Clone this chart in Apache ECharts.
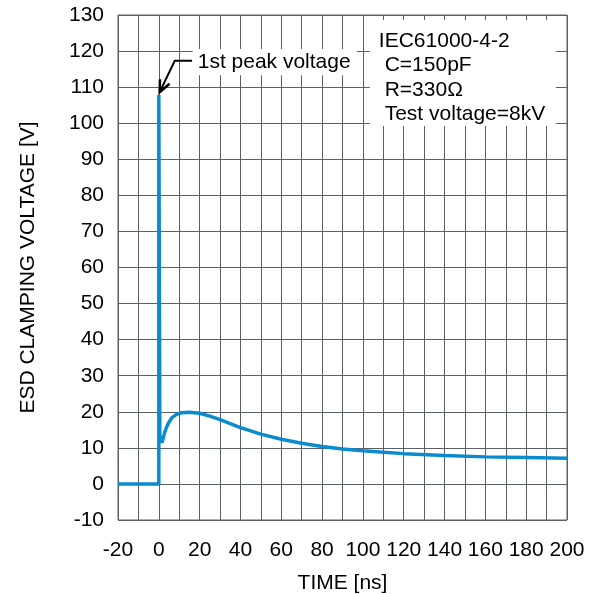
<!DOCTYPE html>
<html><head><meta charset="utf-8">
<script src="https://cdn.jsdelivr.net/npm/echarts@6/dist/echarts.min.js"></script>
<style>html,body{margin:0;padding:0;background:#fff}#c{width:592px;height:594px}</style>
</head><body><div id="c"></div>
<script>
const timeNs = [-20, 0, 0, 0.5, 1.0, 1.6, 2.2, 3.0, 4.0, 5.0, 6.5, 8.5, 11, 15, 20, 25, 30, 40, 50, 60, 70, 80, 90, 100, 110, 120, 140, 160, 180, 200];
const voltage = [0, 0, 107.8, 13.5, 12.2, 11.5, 12.8, 14.5, 16.0, 17.2, 18.4, 19.2, 19.7, 19.9, 19.6, 18.8, 17.8, 15.6, 13.8, 12.4, 11.3, 10.4, 9.7, 9.2, 8.8, 8.4, 7.9, 7.5, 7.3, 7.1];
const xTicks = [-20, 0, 20, 40, 60, 80, 100, 120, 140, 160, 180, 200];
const infoLines = ['IEC61000-4-2', ' C=150pF', ' R=330Ω', ' Test voltage=8kV'];
const peakLabel = '1st peak voltage';

const FONT = 'Liberation Sans, Arial, sans-serif';
const FS = 21;
const chart = echarts.init(document.getElementById('c'), null, {renderer: 'canvas'});
const gridColor = '#5a6067';
chart.setOption({
  animation: false,
  grid: {left: 118, right: 25, top: 15, bottom: 74, show: true, borderColor: gridColor, borderWidth: 1,
         containLabel: false, outerBoundsMode: 'none'},
  xAxis: {
    type: 'value', min: -20, max: 200, interval: 10,
    name: 'TIME [ns]', nameLocation: 'middle', nameGap: 53,
    nameTextStyle: {fontFamily: FONT, fontSize: FS, color: '#000'},
    axisLine: {show: false}, axisTick: {show: false},
    axisLabel: {fontFamily: FONT, fontSize: FS, color: '#000', margin: 20,
      formatter: v => xTicks.indexOf(v) >= 0 ? String(v) : ''},
    splitLine: {show: true, lineStyle: {color: gridColor, width: 1}}
  },
  yAxis: {
    type: 'value', min: -10, max: 130, interval: 10,
    name: 'ESD CLAMPING VOLTAGE [V]', nameLocation: 'middle', nameGap: 79,
    nameTextStyle: {fontFamily: FONT, fontSize: FS, color: '#000'},
    axisLine: {show: false}, axisTick: {show: false},
    axisLabel: {fontFamily: FONT, fontSize: FS, color: '#000', margin: 14, padding: [4, 0, 0, 0]},
    splitLine: {show: true, lineStyle: {color: gridColor, width: 1}}
  },
  series: [{
    type: 'line', data: timeNs.map((t, i) => [t, voltage[i]]),
    showSymbol: false, smooth: false,
    lineStyle: {color: '#0a8bcf', width: 3.5}, z: 3
  }]
});

// annotations positioned through the chart's coordinate system
const p = (x, y) => chart.convertToPixel({gridIndex: 0}, [x, y]);
const tip = p(0.4, 108.6), elbow = p(7.8, 117.3), start = p(16.3, 117.3);
const ang = Math.atan2(elbow[1] - tip[1], elbow[0] - tip[0]);
const ah = 13, spread = 0.42;
const a1 = [tip[0] + ah * Math.cos(ang - spread), tip[1] + ah * Math.sin(ang - spread)];
const a2 = [tip[0] + ah * Math.cos(ang + spread), tip[1] + ah * Math.sin(ang + spread)];
const lblTL = p(16.6, 120.6), lblBR = p(97, 113.3);
const infoTL = p(103.4, 128.6), infoBR = p(194.5, 99.2);
const txt = (s, x, y) => ({type: 'text', x: x, y: y, style: {text: s, font: FS + 'px ' + FONT, fill: '#000', textVerticalAlign: 'middle'}, z: 11});
const graphics = [
  {type: 'rect', shape: {x: lblTL[0], y: lblTL[1], width: lblBR[0] - lblTL[0], height: lblBR[1] - lblTL[1]}, style: {fill: '#fff'}, z: 10},
  txt(peakLabel, lblTL[0] + 5, (lblTL[1] + lblBR[1]) / 2),
  {type: 'polyline', shape: {points: [start, elbow, tip]}, style: {stroke: '#000', lineWidth: 2, fill: null}, z: 12},
  {type: 'polyline', shape: {points: [a1, tip, a2]}, style: {stroke: '#000', lineWidth: 2.5, fill: null}, z: 12},
  {type: 'rect', shape: {x: infoTL[0], y: infoTL[1], width: infoBR[0] - infoTL[0], height: infoBR[1] - infoTL[1]}, style: {fill: '#fff'}, z: 10}
];
infoLines.forEach((s, i) => graphics.push(txt(s, infoTL[0] + 9, infoTL[1] + 21 + i * 24.5)));
chart.setOption({graphic: graphics});
</script></body></html>
